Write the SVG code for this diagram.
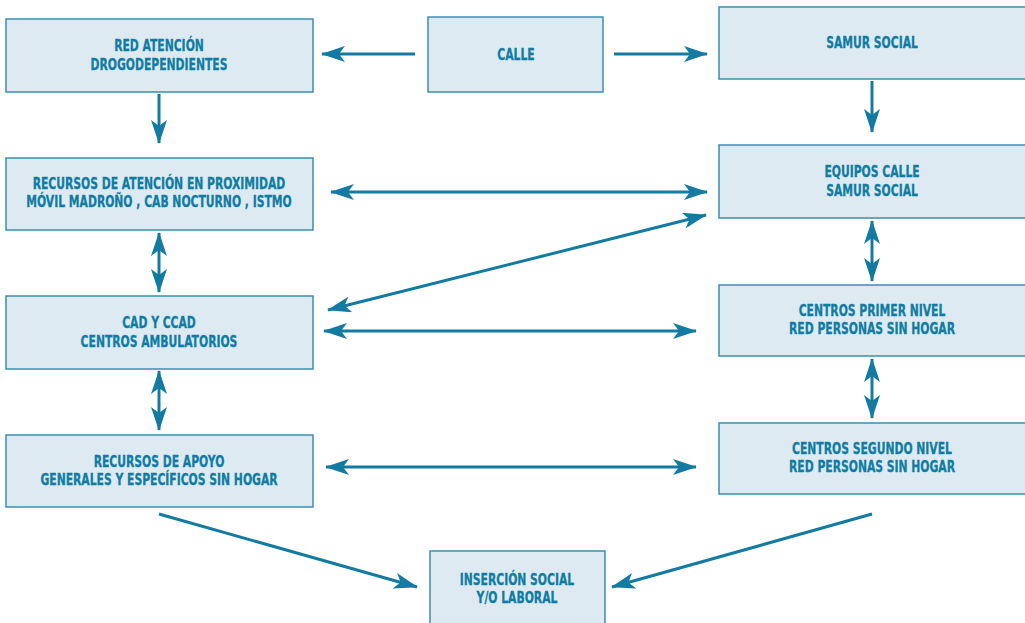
<svg xmlns="http://www.w3.org/2000/svg" width="1025" height="623" viewBox="0 0 1025 623">
  <style>
    .box { fill: #deeaf2; stroke: #3b8db3; stroke-width: 1.5; }
    .lbl { font-family: "DejaVu Sans Condensed", "DejaVu Sans", sans-serif; font-weight: bold; font-size: 16px; fill: #0f7ca2; stroke: #0f7ca2; stroke-width: 0.3; text-anchor: middle; }
    .arr { stroke: #137ba1; stroke-width: 3; fill: none; marker-end: url(#head); }
    .dbl { marker-start: url(#tail); }
  </style>
  <defs>
    <marker id="head" viewBox="0 0 24 16" refX="23" refY="8" markerWidth="24" markerHeight="16" markerUnits="userSpaceOnUse" orient="auto">
      <path d="M0,0 L24,8 L0,16 L6,8 Z" fill="#137ba1"/>
    </marker>
    <marker id="tail" viewBox="0 0 24 16" refX="1" refY="8" markerWidth="24" markerHeight="16" markerUnits="userSpaceOnUse" orient="auto">
      <path d="M24,0 L0,8 L24,16 L18,8 Z" fill="#137ba1"/>
    </marker>
  </defs>

  <g id="connectors">
    <line class="arr" x1="415" y1="54" x2="322" y2="54"/>
    <line class="arr" x1="614" y1="54" x2="707" y2="54"/>
    <line class="arr" x1="159" y1="94" x2="159" y2="143"/>
    <line class="arr" x1="872" y1="81" x2="872" y2="132"/>
    <line class="arr dbl" x1="331" y1="192" x2="707" y2="192"/>
    <line class="arr dbl" x1="328" y1="310" x2="706" y2="215"/>
    <line class="arr dbl" x1="324" y1="331" x2="696" y2="331"/>
    <line class="arr dbl" x1="326" y1="467" x2="696" y2="467"/>
    <line class="arr dbl" x1="159" y1="233" x2="159" y2="292"/>
    <line class="arr dbl" x1="159" y1="371" x2="159" y2="430"/>
    <line class="arr dbl" x1="872" y1="221" x2="872" y2="281"/>
    <line class="arr dbl" x1="872" y1="359" x2="872" y2="418"/>
    <line class="arr" x1="159" y1="514" x2="417" y2="587"/>
    <line class="arr" x1="872" y1="514" x2="612" y2="587"/>
  </g>

  <!-- labels are drawn in a horizontally condensed space (scale 0.75) -->
  <g id="red-atencion">
    <rect class="box" x="6" y="19" width="307" height="73"/>
    <g transform="scale(0.75,1)">
      <text class="lbl" x="212" y="51">RED ATENCIÓN</text>
      <text class="lbl" x="212" y="70">DROGODEPENDIENTES</text>
    </g>
  </g>
  <g id="calle">
    <rect class="box" x="428" y="17" width="175" height="75"/>
    <g transform="scale(0.75,1)">
      <text class="lbl" x="688" y="60">CALLE</text>
    </g>
  </g>
  <g id="samur-social">
    <rect class="box" x="719" y="7" width="310" height="72"/>
    <g transform="scale(0.75,1)">
      <text class="lbl" x="1162.7" y="48">SAMUR SOCIAL</text>
    </g>
  </g>
  <g id="recursos-proximidad">
    <rect class="box" x="6" y="158" width="307" height="72"/>
    <g transform="scale(0.75,1)">
      <text class="lbl" x="212" y="189">RECURSOS DE ATENCIÓN EN PROXIMIDAD</text>
      <text class="lbl" x="212" y="207">MÓVIL MADROÑO , CAB NOCTURNO , ISTMO</text>
    </g>
  </g>
  <g id="equipos-calle">
    <rect class="box" x="719" y="145" width="310" height="73"/>
    <g transform="scale(0.75,1)">
      <text class="lbl" x="1162.7" y="177">EQUIPOS CALLE</text>
      <text class="lbl" x="1162.7" y="196">SAMUR SOCIAL</text>
    </g>
  </g>
  <g id="cad-ccad">
    <rect class="box" x="6" y="296" width="307" height="73"/>
    <g transform="scale(0.75,1)">
      <text class="lbl" x="212" y="328">CAD Y CCAD</text>
      <text class="lbl" x="212" y="347">CENTROS AMBULATORIOS</text>
    </g>
  </g>
  <g id="centros-primer-nivel">
    <rect class="box" x="719" y="285" width="310" height="71"/>
    <g transform="scale(0.75,1)">
      <text class="lbl" x="1162.7" y="316">CENTROS  PRIMER NIVEL</text>
      <text class="lbl" x="1162.7" y="334">RED PERSONAS SIN HOGAR</text>
    </g>
  </g>
  <g id="recursos-apoyo">
    <rect class="box" x="6" y="435" width="307" height="72"/>
    <g transform="scale(0.75,1)">
      <text class="lbl" x="212" y="467">RECURSOS DE APOYO</text>
      <text class="lbl" x="212" y="485">GENERALES Y ESPECÍFICOS SIN HOGAR</text>
    </g>
  </g>
  <g id="centros-segundo-nivel">
    <rect class="box" x="719" y="423" width="310" height="71"/>
    <g transform="scale(0.75,1)">
      <text class="lbl" x="1162.7" y="454">CENTROS SEGUNDO NIVEL</text>
      <text class="lbl" x="1162.7" y="472">RED PERSONAS SIN HOGAR</text>
    </g>
  </g>
  <g id="insercion">
    <rect class="box" x="430" y="551" width="175" height="76"/>
    <g transform="scale(0.75,1)">
      <text class="lbl" x="689.3" y="585">INSERCIÓN SOCIAL</text>
      <text class="lbl" x="689.3" y="603">Y/O LABORAL</text>
    </g>
  </g>
</svg>
